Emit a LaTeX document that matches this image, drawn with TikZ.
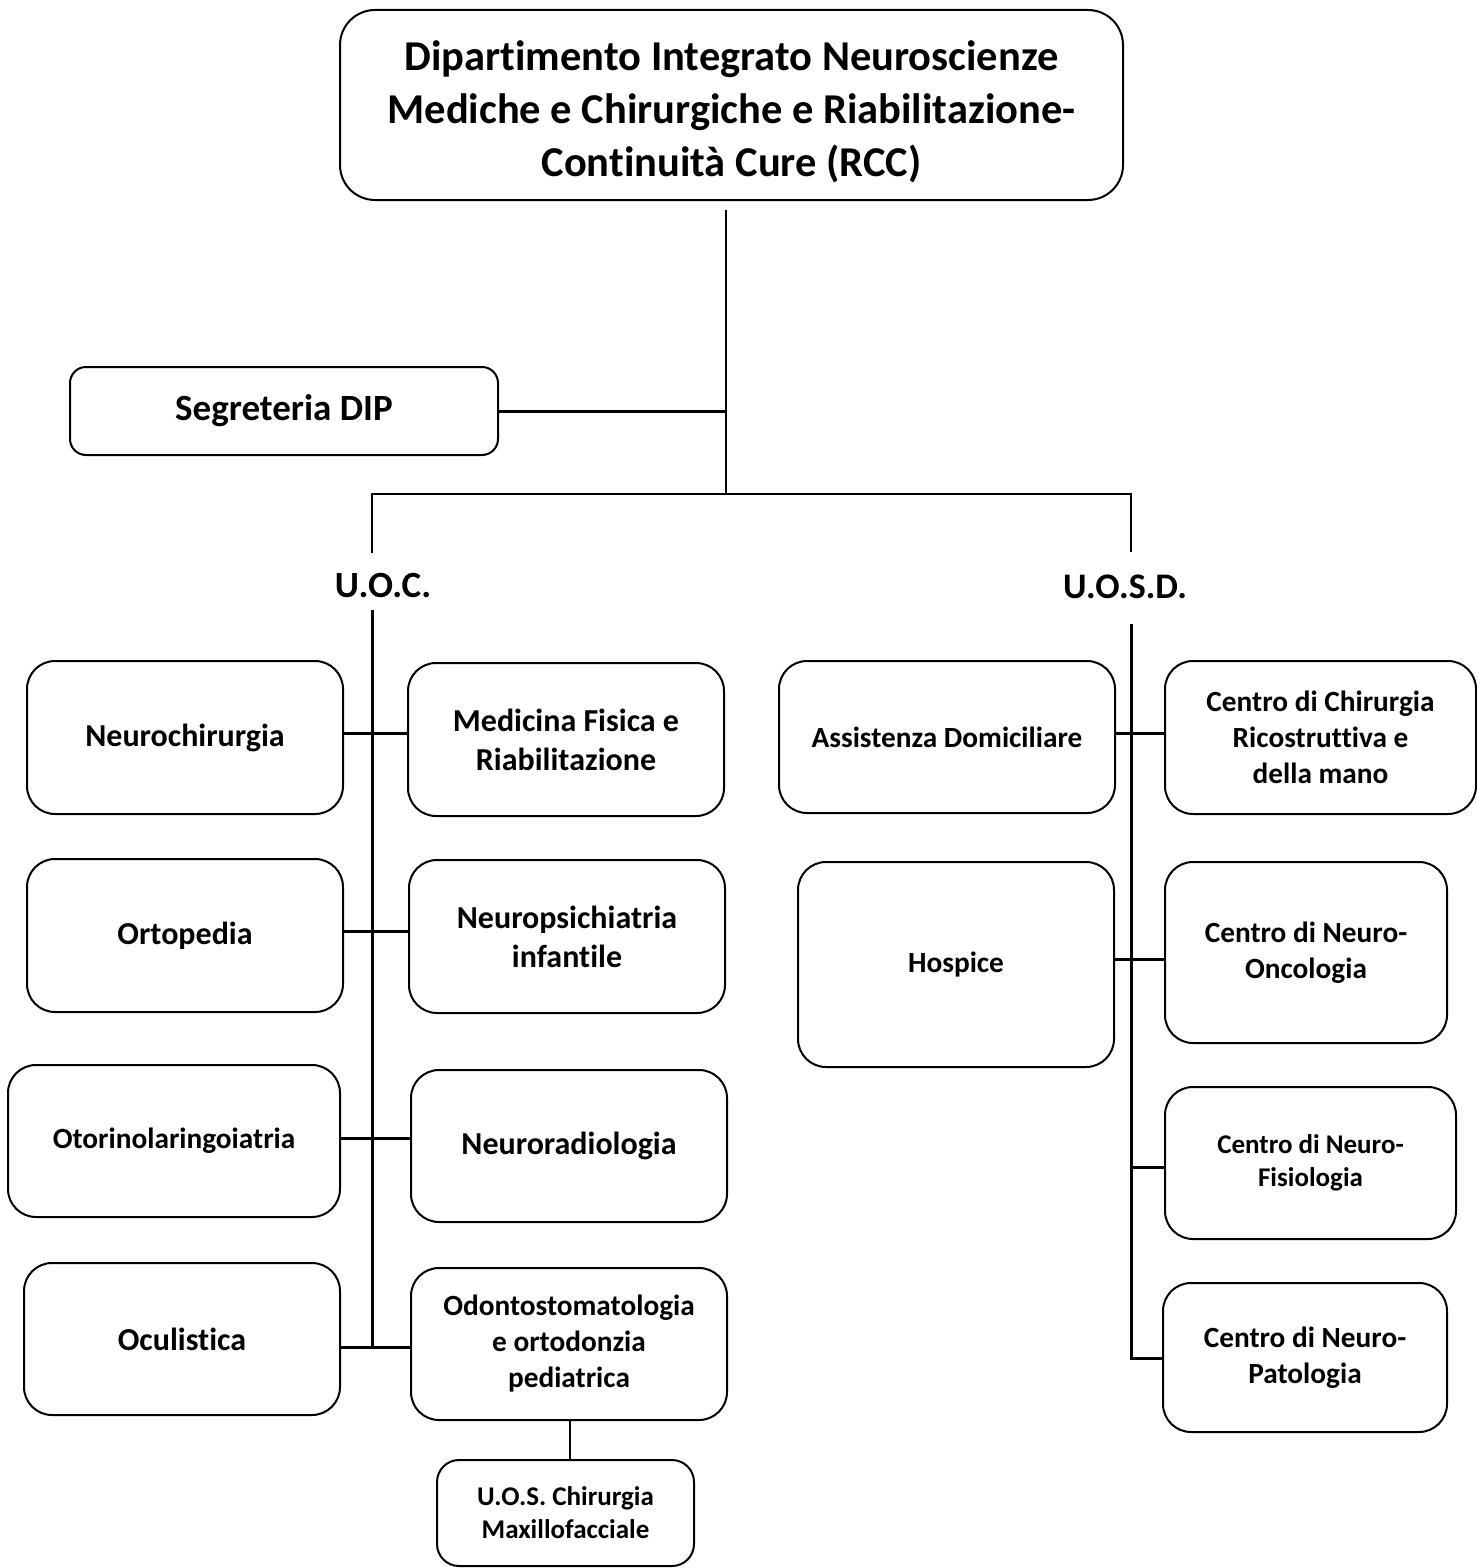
\documentclass[tikz,border=0pt]{standalone}
\usepackage{fontspec}
\setmainfont{Carlito}[Ligatures={NoCommon}]
\begin{document}
\begin{tikzpicture}[x=1pt,y=-1pt,
  unit/.style={draw, line width=2pt, rounded corners=28pt, align=center, inner sep=2pt},
  link/.style={line width=3pt},
  fTitle/.style={font=\fontsize{42.5}{53}\selectfont\bfseries},
  fHead/.style={font=\fontsize{37}{45}\selectfont\bfseries},
  fBig/.style={font=\fontsize{32}{39}\selectfont\bfseries},
  fMid/.style={font=\fontsize{29.3}{36}\selectfont\bfseries},
  fSmall/.style={font=\fontsize{27}{33}\selectfont\bfseries}]
\useasboundingbox (0,0) rectangle (1477,1568);

% department
\node[unit, rounded corners=35pt, minimum width=783pt, minimum height=190pt] (dept) at (731.5,105) {};
\node[fTitle, align=center] (deptText) at (731.5,112)
  {Dipartimento Integrato Neuroscienze\\Mediche e Chirurgiche e Riabilitazione-\\Continuità Cure (RCC)};
\node[unit, fHead, rounded corners=16pt, minimum width=428pt, minimum height=88pt] (seg) at (284,411) {Segreteria DIP};

% branch labels
\node[fHead] (uoc) at (383,585) {U.O.C.};
\node[fHead, font=\fontsize{36}{44}\selectfont\bfseries] (uosd) at (1125,587) {U.O.S.D.};

% U.O.C. units
\node[unit, fBig, minimum width=316pt, minimum height=153pt] (neuro)  at (185,737.5) {Neurochirurgia};
\node[unit, fBig, minimum width=316pt, minimum height=153pt] (medfis) at (566,739.5) {Medicina Fisica e\\Riabilitazione};
\node[unit, fBig, minimum width=316pt, minimum height=153pt] (orto)   at (185,935.5) {Ortopedia};
\node[unit, fBig, minimum width=316pt, minimum height=153pt] (npi)    at (567,936.5) {Neuropsichiatria\\infantile};
\node[unit, fMid, minimum width=332pt, minimum height=152pt] (oto)    at (174,1141) {Otorinolaringoiatria};
\node[unit, fBig, minimum width=316pt, minimum height=152pt] (nrad)   at (569,1146) {Neuroradiologia};
\node[unit, fBig, minimum width=316pt, minimum height=152pt] (ocul)   at (182,1339) {Oculistica};
\node[unit, fMid, minimum width=316pt, minimum height=152pt] (odonto) at (569,1344) {Odontostomatologia\\e ortodonzia\\pediatrica};
\node[unit, fSmall, rounded corners=22pt, minimum width=257pt, minimum height=106pt] (uos) at (565.5,1513) {U.O.S. Chirurgia\\Maxillofacciale};

% U.O.S.D. units
\node[unit, fMid, minimum width=336pt, minimum height=152pt] (assist) at (947,737) {Assistenza Domiciliare};
\node[unit, fMid, minimum width=311pt, minimum height=153pt] (chir)   at (1320.5,737.5) {Centro di Chirurgia\\Ricostruttiva e\\della mano};
\node[unit, fMid, minimum width=316pt, minimum height=205pt] (hosp)   at (956,964.5) {Hospice};
\node[unit, fMid, minimum width=282pt, minimum height=181pt] (onco)   at (1306,952.5) {Centro di Neuro-\\Oncologia};
\node[unit, fSmall, minimum width=291pt, minimum height=152pt] (fisio) at (1310.5,1163) {Centro di Neuro-\\Fisiologia};
\node[unit, fMid, minimum width=284pt, minimum height=149pt] (patol)  at (1305,1357.5) {Centro di Neuro-\\Patologia};

% trunk and main bus
\coordinate (bus) at (726,494);
\coordinate (uocTop) at (372,553);
\coordinate (uosdTop) at (1131,552);
\draw[line width=2.5pt] ([yshift=-9pt]dept.south -| bus) -- (bus);
\draw[link] (seg.east) -- (seg.east -| bus);
\draw[line width=2.5pt] (uocTop) -- (uocTop |- bus) -- (uosdTop |- bus) -- (uosdTop);

% U.O.C. spine and rows
\coordinate (uocS) at (372,610);
\coordinate (uocE) at (372,1347);
\draw[link] (uocS) -- (uocE);
\coordinate (r1) at (0,733);
\coordinate (r2) at (0,931);
\coordinate (r3) at (0,1138);
\coordinate (r4) at (0,1347);
\draw[link] (neuro.east |- r1) -- (medfis.west |- r1);
\draw[link] (orto.east |- r2) -- (npi.west |- r2);
\draw[link] (oto.east |- r3) -- (nrad.west |- r3);
\draw[link] (ocul.east |- r4) -- (odonto.west |- r4);
\draw[line width=2.5pt] (odonto.south -| 570,0) -- (uos.north -| 570,0);

% U.O.S.D. spine and rows
\coordinate (uosdS) at (1131,624);
\coordinate (uosdE) at (1131,1358);
\coordinate (q1) at (0,733);
\coordinate (q2) at (0,959);
\coordinate (q3) at (0,1167);
\draw[link] (uosdS) -- (uosdE) -- (uosdE -| patol.west);
\draw[link] (assist.east |- q1) -- (chir.west |- q1);
\draw[link] (hosp.east |- q2) -- (onco.west |- q2);
\draw[link] (uosdE |- q3) -- (fisio.west |- q3);
\end{tikzpicture}
\end{document}
